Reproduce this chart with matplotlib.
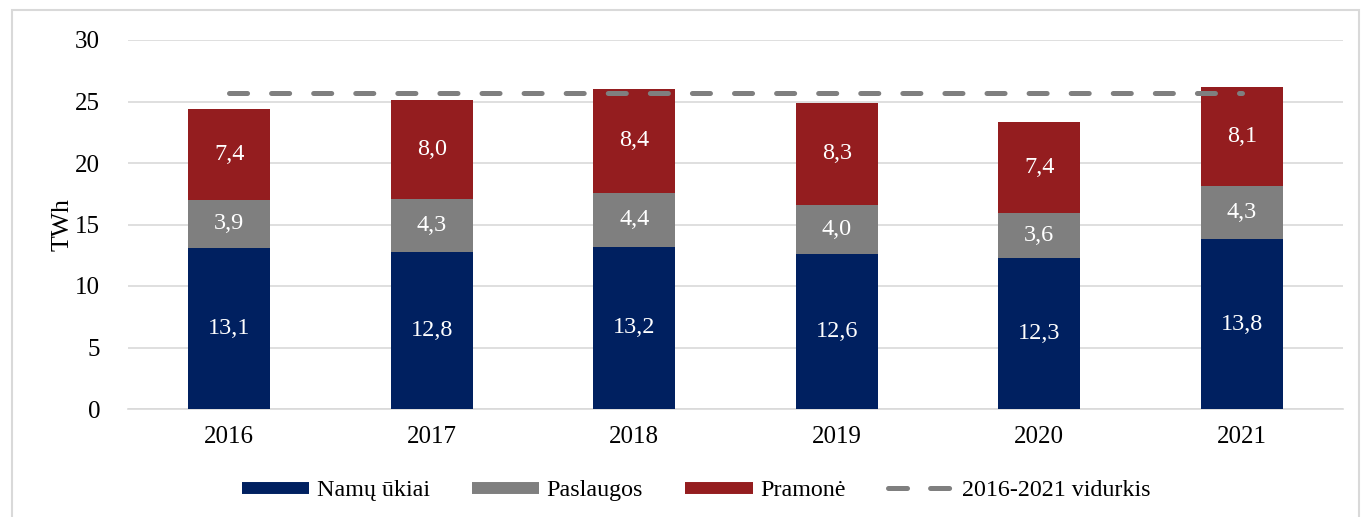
import matplotlib
matplotlib.use("Agg")
import matplotlib.pyplot as plt
from matplotlib.lines import Line2D
from matplotlib.patches import Rectangle
import numpy as np

plt.rcParams['font.family'] = ['Liberation Serif', 'DejaVu Serif']
plt.rcParams['lines.scale_dashes'] = False

years = ['2016', '2017', '2018', '2019', '2020', '2021']
namu_ukiai = [13.1, 12.8, 13.2, 12.6, 12.3, 13.8]
paslaugos = [3.9, 4.3, 4.4, 4.0, 3.6, 4.3]
pramone = [7.4, 8.0, 8.4, 8.3, 7.4, 8.1]
vidurkis = 25.7

labels = ['Namų ūkiai', 'Paslaugos', 'Pramonė', '2016-2021 vidurkis']
c_navy = '#002060'
c_gray = '#7F7F7F'
c_red = '#941D1F'
c_grid = '#D9D9D9'

fig = plt.figure(figsize=(13.62, 5.17), dpi=100)
ax = fig.add_axes([128/1362, (517-409)/517, (1343-128)/1362, (409-40)/517])

x = np.arange(len(years))
w = 0.405
b1 = ax.bar(x, namu_ukiai, w, color=c_navy, zorder=3)
b2 = ax.bar(x, paslaugos, w, bottom=namu_ukiai, color=c_gray, zorder=3)
bot3 = [a + b for a, b in zip(namu_ukiai, paslaugos)]
b3 = ax.bar(x, pramone, w, bottom=bot3, color=c_red, zorder=3)

fs = 18
for bars, vals, bots in [(b1, namu_ukiai, [0]*6), (b2, paslaugos, namu_ukiai), (b3, pramone, bot3)]:
    for i, (v, bt) in enumerate(zip(vals, bots)):
        ax.text(x[i], bt + v/2, f"{v:.1f}".replace('.', ','), ha='center', va='center',
                color='white', fontsize=17.5, zorder=5)

ax.plot([x[0], x[-1]], [vidurkis, vidurkis], color=c_gray, lw=3.6,
        dashes=(13, 17.3), dash_capstyle='round', zorder=4)

ax.set_xlim(-0.5, len(years) - 0.5)
ax.set_ylim(0, 30)
ax.set_yticks(range(0, 31, 5))
ax.set_xticks(x)
ax.set_xticklabels(years)
ax.tick_params(axis='both', length=0, labelsize=fs, colors='black')
ax.tick_params(axis='y', pad=20)
ax.tick_params(axis='x', pad=12)
ax.yaxis.grid(True, color=c_grid, lw=1.2, zorder=0)
ax.set_axisbelow(True)
for s in ['top', 'right', 'left']:
    ax.spines[s].set_visible(False)
ax.spines['bottom'].set_color(c_grid)
ax.spines['bottom'].set_linewidth(1.2)
ax.set_ylabel('TWh', fontsize=18.5, labelpad=1)

handles = [
    Line2D([], [], color=c_navy, lw=8.6, solid_capstyle='butt'),
    Line2D([], [], color=c_gray, lw=8.6, solid_capstyle='butt'),
    Line2D([], [], color=c_red, lw=8.6, solid_capstyle='butt'),
    Line2D([], [], color=c_gray, lw=3.6, dashes=(13.7, 16.6), dash_capstyle='round'),
]
fig.legend(handles, labels, loc='center', bbox_to_anchor=(0.5114, (517-490)/517), ncol=4,
           frameon=False, fontsize=17.3, handlelength=2.8, handletextpad=0.3,
           columnspacing=1.77)

fig.patches.append(Rectangle((12/1362, -0.05), (1359-12)/1362, (517-10)/517 + 0.05,
                             transform=fig.transFigure, fill=False, edgecolor='#D9D9D9',
                             lw=1.5))

fig.savefig('out.png', dpi=100)
